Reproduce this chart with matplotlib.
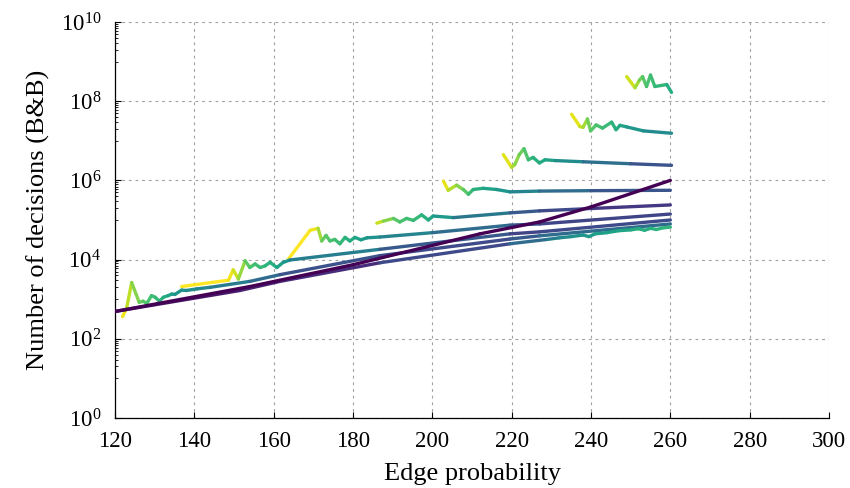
import numpy as np
import matplotlib
matplotlib.use("Agg")
import matplotlib.pyplot as plt
from matplotlib.collections import LineCollection
from matplotlib.ticker import FixedLocator, NullFormatter

plt.rcParams['font.family'] = ['Liberation Serif', 'DejaVu Serif']
plt.rcParams['mathtext.fontset'] = 'custom'
plt.rcParams['mathtext.rm'] = 'Liberation Serif'
plt.rcParams['mathtext.it'] = 'Liberation Serif:italic'

# ---- data: x = edge probability, y = log10(number of decisions), c = colour value (0..1, viridis)
A_x = [120, 154, 180, 212, 227, 240, 260]
A_y = [2.69, 3.32, 3.87, 4.65, 4.95, 5.33, 6.0]
A_c = [0.0, 0.0, 0.0, 0.0, 0.0, 0.0, 0.0]

B_x = [120, 151.5, 161.6, 186.8, 219.6, 229, 232, 235, 238, 239.5, 241, 244, 247, 250, 252, 253.5, 255, 256.5, 258, 260]
B_y = [2.69, 3.22, 3.45, 3.92, 4.40, 4.51, 4.55, 4.58, 4.62, 4.58, 4.65, 4.68, 4.73, 4.75, 4.78, 4.74, 4.79, 4.76, 4.80, 4.82]
B_c = [0.05, 0.08, 0.1, 0.15, 0.3, 0.4, 0.45, 0.5, 0.52, 0.55, 0.55, 0.57, 0.58, 0.6, 0.62, 0.62, 0.63, 0.64, 0.65, 0.65]

S1_x = [121.9, 122.9, 124.2, 126.1, 127.1, 128.0, 129.2, 130.1, 131.2, 132.2, 133.4, 134.3, 135.1, 136.8, 138.0, 140.6, 144.0, 154.0, 161.6, 186.8, 219.6, 227, 260]
S1_y = [2.56, 2.76, 3.42, 2.92, 2.95, 2.89, 3.09, 3.05, 2.95, 3.05, 3.09, 3.13, 3.12, 3.23, 3.22, 3.26, 3.30, 3.45, 3.62, 4.10, 4.52, 4.60, 4.90]
S1_c = [1.0, 0.95, 0.85, 0.78, 0.75, 0.72, 0.7, 0.68, 0.66, 0.62, 0.6, 0.56, 0.54, 0.5, 0.5, 0.48, 0.45, 0.38, 0.3, 0.2, 0.25, 0.3, 0.4]

S2_x = [136.8, 148.6, 149.8, 151.1, 152.8, 154.0, 155.3, 156.6, 157.8, 159.1, 160.8, 162.4, 164.1, 186.8, 219.6, 227, 260]
S2_y = [3.32, 3.48, 3.74, 3.51, 3.97, 3.80, 3.89, 3.80, 3.84, 3.93, 3.80, 3.93, 3.99, 4.26, 4.65, 4.70, 5.00]
S2_c = [1.0, 1.0, 0.95, 0.9, 0.78, 0.72, 0.7, 0.68, 0.66, 0.64, 0.6, 0.55, 0.5, 0.35, 0.2, 0.2, 0.25]

S3_x = [163.7, 169.2, 171.2, 172.1, 173.2, 174.2, 175.4, 176.7, 178.0, 179.2, 180.5, 182.0, 183.5, 186.8, 200, 219.6, 227, 260]
S3_y = [4.01, 4.74, 4.79, 4.47, 4.61, 4.47, 4.51, 4.40, 4.56, 4.47, 4.56, 4.50, 4.55, 4.57, 4.68, 4.87, 4.90, 5.15]
S3_c = [1.0, 1.0, 0.95, 0.78, 0.75, 0.72, 0.7, 0.68, 0.65, 0.62, 0.6, 0.56, 0.53, 0.5, 0.4, 0.3, 0.26, 0.15]

S4_x = [186.0, 187.6, 190.2, 191.8, 193.5, 195.2, 197.3, 199.0, 200.2, 205.3, 219.6, 227, 240, 260]
S4_y = [4.92, 4.97, 5.04, 4.95, 5.04, 4.99, 5.13, 5.00, 5.10, 5.06, 5.18, 5.23, 5.29, 5.38]
S4_c = [0.95, 0.88, 0.75, 0.72, 0.7, 0.68, 0.66, 0.62, 0.58, 0.5, 0.3, 0.25, 0.2, 0.12]

S5_x = [202.8, 204.0, 206.1, 207.8, 209.1, 210.3, 212.8, 216.2, 219.6, 227, 240, 260]
S5_y = [5.98, 5.75, 5.88, 5.77, 5.65, 5.77, 5.80, 5.77, 5.71, 5.73, 5.74, 5.75]
S5_c = [1.0, 0.92, 0.85, 0.78, 0.7, 0.66, 0.6, 0.55, 0.5, 0.4, 0.3, 0.22]

S6_x = [217.9, 220.0, 220.8, 221.9, 223.1, 224.2, 225.4, 227.0, 228.4, 231.0, 238.0, 250.0, 260.3]
S6_y = [6.65, 6.33, 6.40, 6.65, 6.80, 6.52, 6.58, 6.44, 6.52, 6.50, 6.47, 6.42, 6.38]
S6_c = [1.0, 0.9, 0.85, 0.8, 0.75, 0.7, 0.65, 0.62, 0.6, 0.55, 0.42, 0.3, 0.22]

S7_x = [235.1, 237.2, 238.0, 239.1, 239.9, 241.3, 242.9, 245.2, 246.3, 247.3, 249.0, 253.2, 260.3]
S7_y = [7.67, 7.36, 7.34, 7.55, 7.25, 7.40, 7.32, 7.47, 7.28, 7.39, 7.35, 7.25, 7.19]
S7_c = [1.0, 0.92, 0.9, 0.82, 0.75, 0.72, 0.7, 0.66, 0.62, 0.6, 0.56, 0.5, 0.45]

S8_x = [249.0, 251.1, 252.2, 253.0, 254.0, 255.0, 256.1, 259.1, 260.3]
S8_y = [8.62, 8.34, 8.53, 8.62, 8.37, 8.66, 8.37, 8.42, 8.22]
S8_c = [0.95, 0.9, 0.82, 0.75, 0.72, 0.7, 0.68, 0.64, 0.6]

series = [
    (S8_x, S8_y, S8_c), (S7_x, S7_y, S7_c), (S6_x, S6_y, S6_c),
    (S5_x, S5_y, S5_c), (S4_x, S4_y, S4_c), (S3_x, S3_y, S3_c),
    (S2_x, S2_y, S2_c), (S1_x, S1_y, S1_c), (B_x, B_y, B_c), (A_x, A_y, A_c),
]

x_ticks = [120, 140, 160, 180, 200, 220, 240, 260, 280, 300]
y_major_exp = [0, 2, 4, 6, 8, 10]

fig = plt.figure(figsize=(8.5, 4.88), dpi=100)
ax = fig.add_axes([0.1353, 0.1434, 0.9753 - 0.1353, 0.955 - 0.1434])
ax.set_yscale('log')
ax.set_xlim(120, 300)
ax.set_ylim(1, 1e10)

cmap = plt.get_cmap('viridis')
for xs, ys, cs in series:
    xs = np.asarray(xs, float)
    yv = 10.0 ** np.asarray(ys, float)
    cs = np.asarray(cs, float)
    pts = np.column_stack([xs, yv]).reshape(-1, 1, 2)
    segs = np.concatenate([pts[:-1], pts[1:]], axis=1)
    lc = LineCollection(segs, cmap=cmap, norm=plt.Normalize(0, 1),
                        linewidths=2.4, capstyle='round', joinstyle='round', zorder=3)
    lc.set_array((cs[:-1] + cs[1:]) / 2)
    ax.add_collection(lc)

ax.set_xticks(x_ticks)
ax.set_xticklabels([str(v) for v in x_ticks])
ax.yaxis.set_major_locator(FixedLocator([10.0 ** e for e in y_major_exp]))
ax.set_yticklabels([r'$10^{%d}$' % e for e in y_major_exp])
minor = []
for e in [1, 3, 5, 7, 9]:
    for k in range(1, 10):
        minor.append(k * 10.0 ** e)
ax.yaxis.set_minor_locator(FixedLocator(minor))
ax.yaxis.set_minor_formatter(NullFormatter())

ax.tick_params(axis='both', which='major', direction='in', length=4, width=0.8,
               labelsize=16.5)
ax.tick_params(axis='x', which='major', pad=9)
ax.tick_params(axis='y', which='major', pad=10)
ax.tick_params(axis='y', which='minor', direction='in', length=2.5, width=0.6)
ax.tick_params(axis='x', which='minor', bottom=False)

ax.grid(True, which='major', linestyle=(0, (2.5, 3.5)), color='#a0a0a0', linewidth=0.8, zorder=0)
for s in ['top', 'right']:
    ax.spines[s].set_visible(False)
for s in ['left', 'bottom']:
    ax.spines[s].set_linewidth(0.9)

ax.set_xlabel('Edge probability', fontsize=19, labelpad=8)
ax.set_ylabel('Number of decisions (B&B)', fontsize=19, labelpad=8)

fig.savefig('out.png', dpi=100)
